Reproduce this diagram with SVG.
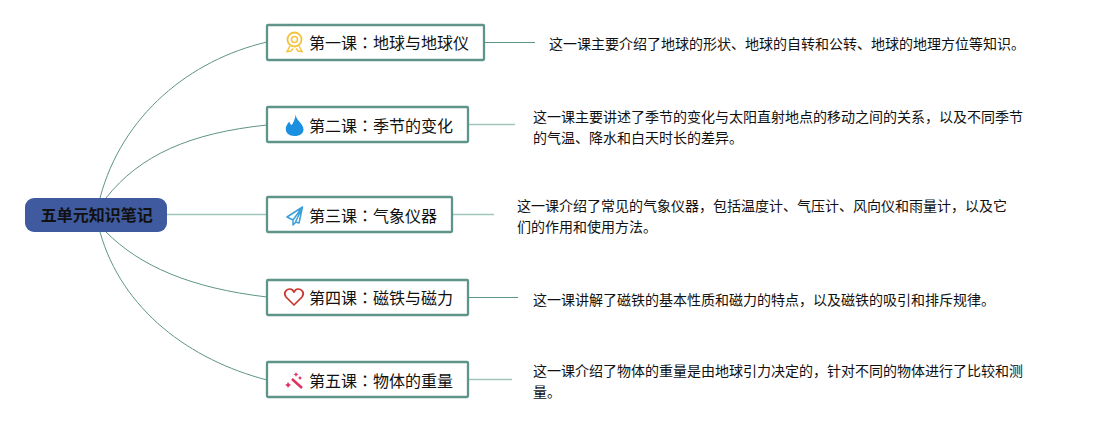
<svg xmlns="http://www.w3.org/2000/svg" width="1093" height="430" viewBox="0 0 1093 430">
<style>
text{font-family:"Noto Sans CJK SC","Noto Sans",sans-serif;fill:#111}
.t{font-size:16px}
.d{font-size:14px}
.p{font-family:"Noto Sans CJK TC","Noto Sans",sans-serif}
.b{fill:#fff;stroke:#5f9488;stroke-width:2.300}
.c{fill:none;stroke:#5f9488;stroke-width:1}
.s{fill:none;stroke:#9fc7bb;stroke-width:1.600}
</style>
<rect width="1093" height="430" fill="#fff"/>
<g id="connectors">
<path class="c" d="M100 198C122 115 190 60 267 42"/>
<path class="c" d="M106 198C140 155 190 133 267 125"/>
<path class="s" d="M166 214.500H267"/>
<path class="c" d="M106 232C140 266 190 288 267 297"/>
<path class="c" d="M100 232C122 310 190 360 267 380"/>
<path class="c" d="M484 42.500H535"/>
<path class="s" d="M468 124.500H515"/>
<path class="s" d="M452 214.500H494"/>
<path class="c" d="M468 297.500H518"/>
<path class="s" d="M468 379.500H512"/>
</g>
<g id="root"><rect x="25" y="198" width="142" height="34" rx="9" fill="#3f5a9e"/><text x="96.700" y="221" text-anchor="middle" font-size="16" font-weight="700" fill="#000">五单元知识笔记</text></g>
<g id="n1"><rect class="b" x="267" y="25" width="217" height="35" rx="1"/>
<circle cx="294.500" cy="39.500" r="7" fill="none" stroke="#f5c33b" stroke-width="1.800"/><circle cx="294.500" cy="39.500" r="3" fill="none" stroke="#f5c33b" stroke-width="1.500"/><path d="M290 46l-3 5.500 4-.5 2-2.500M299 46l3 5.500-4-.5-2-2.500" fill="none" stroke="#f5c33b" stroke-width="1.500"/>
<text class="t" x="309" y="49">第一课<tspan class="p">：</tspan>地球与地球仪</text></g>
<g id="n2"><rect class="b" x="267" y="107" width="201" height="35" rx="1"/>
<path d="M295.500 114.500C296 120 303.500 124 303.500 129.500C303.500 133.500 300 136 294.500 136C289 136 285.800 133 285.800 129C285.800 126 287.500 123.500 289.500 121.500C289.700 123.500 290.500 124.500 291.800 125C293.500 122 295.500 119 295.500 114.500Z" fill="#1b8fe0"/>
<text class="t" x="309" y="132">第二课<tspan class="p">：</tspan>季节的变化</text></g>
<g id="n3"><rect class="b" x="267" y="197" width="185" height="35" rx="1"/>
<path d="M302.500 207L287 217l6 3 9.500-13-7 15 3.500 1zM293 220v5l3-3" fill="none" stroke="#3c9fd8" stroke-width="1.500" stroke-linejoin="round"/>
<text class="t" x="309" y="222">第三课<tspan class="p">：</tspan>气象仪器</text></g>
<g id="n4"><rect class="b" x="267" y="280" width="201" height="35" rx="1"/>
<path d="M294 305L286 297C283 293 286 289 290 289C292 289 293 290 294 292C295 290 296 289 298 289C302 289 305 293 302 297Z" fill="none" stroke="#c9352b" stroke-width="1.700" stroke-linejoin="round"/>
<text class="t" x="309" y="304">第四课<tspan class="p">：</tspan>磁铁与磁力</text></g>
<g id="n5"><rect class="b" x="267" y="362" width="201" height="35" rx="1"/>
<path d="M292 379L302 388" stroke="#e0305f" stroke-width="2.500" fill="none"/><path d="M296 372l.8 1.700 1.700.8-1.700.8-.8 1.700-.8-1.700-1.700-.8 1.700-.8zM288 382l1.200 2 2 1-2 1-1.200 2-1-2-2-1 2-1zM300 376l.8 1.200 1.200.8-1.200.8-.8 1.200-.8-1.200-1.200-.8 1.200-.8z" fill="#e0305f"/>
<text class="t" x="309" y="387">第五课<tspan class="p">：</tspan>物体的重量</text></g>
<g id="d1"><text class="d" x="549" y="49">这一课主要介绍了地球的形状、地球的自转和公转、地球的地理方位等知识。</text></g>
<g id="d2"><text class="d" x="533" y="122">这一课主要讲述了季节的变化与太阳直射地点的移动之间的关系，以及不同季节</text><text class="d" x="533" y="143">的气温、降水和白天时长的差异。</text></g>
<g id="d3"><text class="d" x="517" y="211">这一课介绍了常见的气象仪器，包括温度计、气压计、风向仪和雨量计，以及它</text><text class="d" x="517" y="232">们的作用和使用方法。</text></g>
<g id="d4"><text class="d" x="533" y="305">这一课讲解了磁铁的基本性质和磁力的特点，以及磁铁的吸引和排斥规律。</text></g>
<g id="d5"><text class="d" x="533" y="376">这一课介绍了物体的重量是由地球引力决定的，针对不同的物体进行了比较和测</text><text class="d" x="533" y="397">量。</text></g>
</svg>
